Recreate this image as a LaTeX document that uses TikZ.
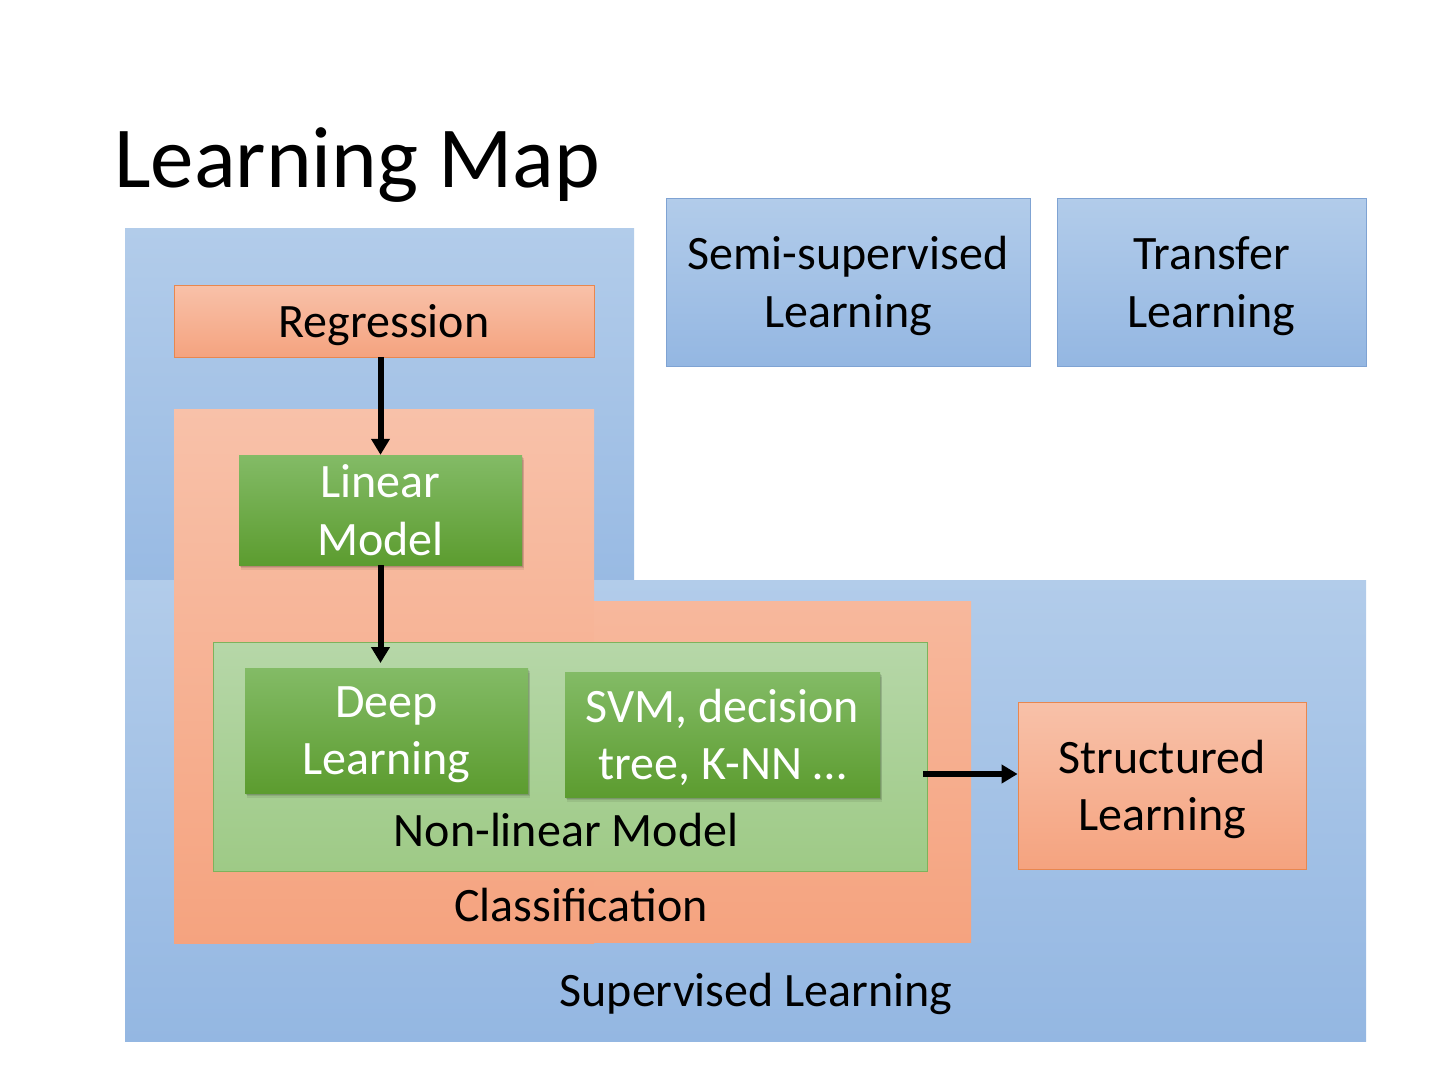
\documentclass[tikz,border=0pt]{standalone}
\usepackage{fontspec}
\setmainfont{Carlito}
\usetikzlibrary{arrows.meta,shadows}
\definecolor{bluetop}{HTML}{B2CCEA}
\definecolor{bluebot}{HTML}{94B7E2}
\definecolor{bluebord}{HTML}{7FA3D3}
\definecolor{ortop}{HTML}{F8C1A9}
\definecolor{orbot}{HTML}{F5A37F}
\definecolor{orbord}{HTML}{E8874F}
\definecolor{gtop}{HTML}{83BB66}
\definecolor{gbot}{HTML}{5C9C2F}
\definecolor{lgtop}{HTML}{B6D7A8}
\definecolor{lgbot}{HTML}{9ECA86}
\definecolor{lgbord}{HTML}{7DB35C}
\begin{document}
\begin{tikzpicture}[x=1pt,y=-1pt,
  txt/.style={font=\fontsize{48}{57.6}\selectfont, align=center, inner sep=0pt},
  boxtxt/.style={txt, text depth=0pt},
  orbox/.style={boxtxt, draw=orbord, line width=0.8pt, top color=ortop, bottom color=orbot},
  bluebox/.style={boxtxt, draw=bluebord, line width=0.8pt, top color=bluetop, bottom color=bluebot},
  gbox/.style={boxtxt, text=white, top color=gtop, bottom color=gbot,
    drop shadow={shadow xshift=2pt, shadow yshift=-4.5pt, opacity=0.07, fill=black},
    drop shadow={shadow xshift=1.5pt, shadow yshift=-3pt, opacity=0.09, fill=black},
    drop shadow={shadow xshift=1pt, shadow yshift=-1.5pt, opacity=0.12, fill=black}},
  lgregion/.style={draw=lgbord, line width=0.8pt, top color=lgtop, bottom color=lgbot, inner sep=0pt},
  arr/.style={line width=6pt, -{Triangle[length=16pt,width=18pt]}}
]
\useasboundingbox (0,0) rectangle (1440,1080);
% title
\node[font=\fontsize{87}{100}\selectfont, anchor=base west, inner sep=0pt] (title) at (114,187) {Learning Map};
% supervised learning region
\fill[top color=bluetop, bottom color=bluebot!85!bluetop] (125,228) rectangle (634,580);
\fill[top color=bluetop, bottom color=bluebot] (125,580) rectangle (1366,1041);
% classification region
\fill[top color=ortop, bottom color=orbot] (174,409) rectangle (594,943);
\fill[top color=ortop!70!orbot, bottom color=orbot] (594,601) rectangle (971,942);
% non-linear region
\node[lgregion, minimum width=714pt, minimum height=229pt] (nl) at (570,756.5) {};
% boxes
\node[orbox, minimum width=420pt, minimum height=72pt] (reg) at (384,321) {Regression};
\node[gbox, minimum width=283pt, minimum height=110pt] (lin) at (380.5,510) {Linear\\Model};
\node[gbox, minimum width=283pt, minimum height=125pt] (deep) at (386.5,730.5) {Deep\\Learning};
\node[gbox, minimum width=315pt, minimum height=125pt] (svm) at (722.5,734.5) {SVM, decision\\tree, K-NN …};
\node[orbox, minimum width=288pt, minimum height=167pt] (str) at (1162,785.5) {Structured\\Learning};
\node[bluebox, minimum width=364pt, minimum height=168pt] (semi) at (848,282) {Semi-supervised\\Learning};
\node[bluebox, minimum width=309pt, minimum height=168pt] (trans) at (1211.5,282) {Transfer\\Learning};
% region labels
\node[txt, anchor=base] (nllab) at (566,846) {Non-linear Model};
\node[txt, anchor=base] (clslab) at (581,921) {Classification};
\node[txt, anchor=base] (suplab) at (756,1006) {Supervised Learning};
% connectors
\coordinate (dltop) at (380.5,663);
\coordinate (nlout) at (923,774);
\draw[arr] (lin.north |- reg.south) -- (lin.north);
\draw[arr] (lin.south) -- (dltop);
\draw[arr] (nlout) -- (str.west |- nlout);
\end{tikzpicture}
\end{document}
